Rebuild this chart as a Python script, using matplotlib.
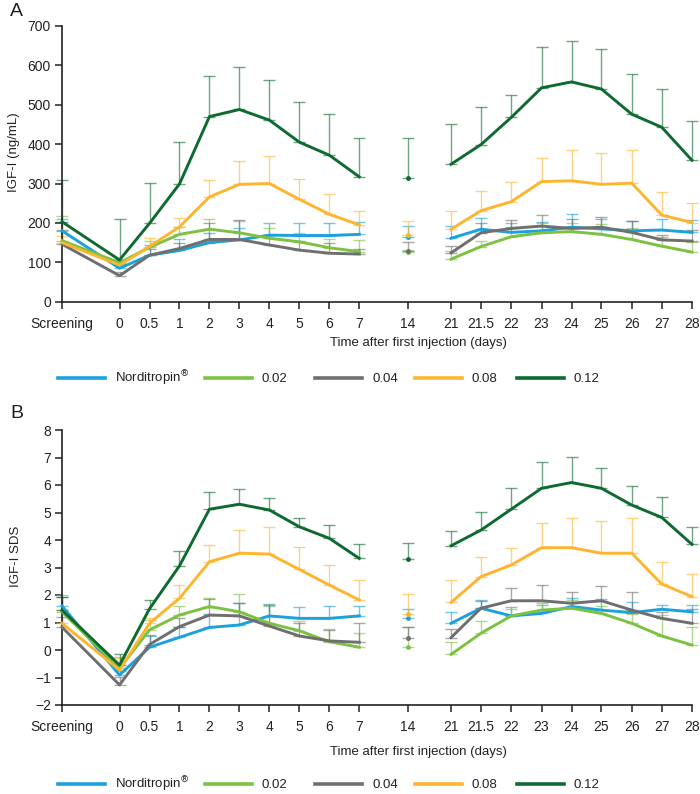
import matplotlib
matplotlib.use("Agg")
import matplotlib.pyplot as plt
from matplotlib.lines import Line2D
import numpy as np

plt.rcParams['font.family'] = ['Liberation Sans', 'DejaVu Sans']

# ---------------- data ----------------
categories = ['Screening', '0', '0.5', '1', '2', '3', '4', '5', '6', '7', '14',
              '21', '21.5', '22', '23', '24', '25', '26', '27', '28']
# position of each category on the (broken) time axis
cat_pos = [-1.92, 0, 1, 2, 3, 4, 5, 6, 7, 8, 9.62, 11.06, 12.06, 13.07, 14.08,
           15.08, 16.08, 17.09, 18.09, 19.1]

series_names = ['Norditropin$^{\\circledR}$', '0.02', '0.04', '0.08', '0.12']

# Panel A: IGF-I (ng/mL) means and mean+SD (top of error bar)
a_nordi = [180, 85, 118, 130, 150, 157, 169, 168, 168, 171, 165, 161, 184, 176, 180, 189, 185, 180, 182, 176]
a_nordi_up = [210, 95, 144, 159, 175, 186, 199, 199, 199, 203, 192, 192, 213, 200, 203, 223, 209, 206, 211, 207]
a_002 = [155, 99, 138, 171, 184, 175, 161, 152, 137, 127, 125, 108, 140, 165, 175, 178, 171, 158, 141, 126]
a_002_up = [217, 105, 155, 190, 209, 206, 188, 175, 160, 157, 130, 129, 155, 190, 200, 200, 197, 186, 165, 152]
a_004 = [146, 66, 118, 135, 158, 158, 144, 131, 123, 121, 128, 124, 175, 186, 192, 186, 189, 176, 157, 154]
a_004_up = [182, 75, 135, 150, 199, 207, 170, 155, 148, 135, 151, 141, 200, 207, 220, 209, 216, 206, 169, 182]
a_008 = [150, 93, 140, 190, 266, 298, 300, 260, 222, 195, 170, 184, 231, 254, 305, 307, 298, 301, 220, 201]
a_008_up = [166, 100, 161, 212, 309, 357, 371, 311, 273, 231, 206, 231, 281, 305, 364, 384, 378, 386, 278, 251]
a_012 = [203, 106, 199, 299, 470, 488, 461, 405, 372, 317, 315, 349, 399, 468, 543, 558, 540, 476, 443, 359]
a_012_up = [309, 211, 301, 405, 573, 595, 564, 506, 476, 416, 416, 451, 495, 525, 647, 662, 641, 579, 541, 460]

# Panel B: IGF-I SDS means and mean+SD
b_nordi = [1.6, -0.91, 0.1, 0.46, 0.82, 0.91, 1.24, 1.15, 1.15, 1.24, 1.18, 0.97, 1.52, 1.24, 1.33, 1.58, 1.45, 1.36, 1.48, 1.39]
b_nordi_up = [1.94, -0.75, 0.5, 0.83, 1.31, 1.7, 1.67, 1.55, 1.6, 1.6, 1.49, 1.37, 1.82, 1.58, 1.64, 1.88, 1.85, 1.73, 1.64, 1.64]
b_002 = [1.39, -0.67, 0.73, 1.27, 1.58, 1.39, 0.97, 0.70, 0.30, 0.1, 0.12, -0.16, 0.61, 1.24, 1.45, 1.52, 1.33, 0.97, 0.51, 0.18]
b_002_up = [2.0, -0.25, 1.1, 1.6, 1.9, 2.03, 1.6, 1.05, 0.75, 0.63, 0.83, 0.30, 1.07, 1.5, 1.7, 1.82, 1.6, 1.3, 1.27, 0.85]
b_004 = [0.83, -1.27, 0.2, 0.85, 1.27, 1.24, 0.87, 0.51, 0.33, 0.28, 0.42, 0.45, 1.52, 1.79, 1.79, 1.7, 1.79, 1.45, 1.15, 0.97]
b_004_up = [1.2, -0.97, 0.55, 1.15, 1.85, 1.7, 1.64, 0.97, 0.73, 0.97, 0.83, 0.75, 1.8, 2.24, 2.36, 2.12, 2.33, 2.12, 1.4, 1.5]
b_008 = [0.97, -0.73, 0.97, 1.88, 3.21, 3.52, 3.49, 2.93, 2.36, 1.82, 1.3, 1.73, 2.67, 3.09, 3.72, 3.72, 3.52, 3.52, 2.4, 1.94]
b_008_up = [1.45, -0.3, 1.15, 2.36, 3.82, 4.36, 4.46, 3.73, 3.09, 2.55, 2.03, 2.55, 3.39, 3.7, 4.61, 4.79, 4.69, 4.79, 3.21, 2.76]
b_012 = [1.45, -0.55, 1.5, 3.06, 5.12, 5.3, 5.09, 4.48, 4.06, 3.33, 3.3, 3.79, 4.36, 5.12, 5.88, 6.09, 5.88, 5.27, 4.82, 3.84]
b_012_up = [1.94, -0.16, 1.82, 3.6, 5.76, 5.85, 5.52, 4.79, 4.56, 3.85, 3.88, 4.34, 5.03, 5.88, 6.82, 7.03, 6.61, 5.96, 5.55, 4.48]

colors = ['#1BA1DC', '#7CC142', '#6F6F70', '#FDB530', '#0E6A30']

panel_a = [(a_nordi, a_nordi_up), (a_002, a_002_up), (a_004, a_004_up),
           (a_008, a_008_up), (a_012, a_012_up)]
panel_b = [(b_nordi, b_nordi_up), (b_002, b_002_up), (b_004, b_004_up),
           (b_008, b_008_up), (b_012, b_012_up)]

# ---------------- figure ----------------
W, H = 700, 794
fig = plt.figure(figsize=(W / 100, H / 100), dpi=100)


def fx(px):
    return px / W


def fy(py):
    return 1 - py / H


axA = fig.add_axes([fx(62), fy(301.7), fx(692 - 62), (301.7 - 26) / H])
axB = fig.add_axes([fx(62), fy(705), fx(692 - 62), (705 - 430) / H])

x = np.array(cat_pos)
seg1 = slice(0, 10)   # Screening .. 7
seg2 = slice(11, 20)  # 21 .. 28
iso = 10              # day 14

TICK_FS = 10
LBL_FS = 9.5
TXT = '#222222'


def draw(ax, data, ylim, yticks):
    for k, (mean, up) in enumerate(data):
        mean = np.array(mean, dtype=float)
        up = np.array(up, dtype=float)
        c = colors[k]
        err = np.vstack([np.zeros_like(mean), up - mean])
        ax.errorbar(x, mean, yerr=err, fmt='none', ecolor=c, alpha=0.6,
                    elinewidth=1.0, capsize=4.2, capthick=1.0, zorder=2 + k * 0.1,
                    clip_on=False)
        ax.plot(x[seg1], mean[seg1], color=c, lw=2.1, zorder=5 + k * 0.1,
                solid_joinstyle='round', clip_on=False)
        ax.plot(x[seg2], mean[seg2], color=c, lw=2.1, zorder=5 + k * 0.1,
                solid_joinstyle='round', clip_on=False)
        ax.plot([x[iso]], [mean[iso]], 'o', color=c, ms=2.5, zorder=5 + k * 0.1,
                clip_on=False)
    ax.set_xlim(cat_pos[0], cat_pos[-1])
    ax.set_ylim(*ylim)
    ax.set_yticks(yticks)
    ax.set_xticks(cat_pos)
    ax.set_xticklabels(categories)
    for s in ['top', 'right']:
        ax.spines[s].set_visible(False)
    for s in ['left', 'bottom']:
        ax.spines[s].set_linewidth(1.2)
        ax.spines[s].set_color(TXT)
    ax.tick_params(axis='both', direction='out', length=5, width=1.1,
                   color=TXT, labelsize=TICK_FS, labelcolor=TXT)
    ax.tick_params(axis='x', pad=6)
    ax.tick_params(axis='y', pad=3)


draw(axA, panel_a, (0, 700), np.arange(0, 701, 100))
draw(axB, panel_b, (-2, 8), np.arange(-2, 9, 1))

# y labels
fig.text(fx(14), fy(152), 'IGF-I (ng/mL)', rotation=90, ha='center', va='center',
         fontsize=LBL_FS, color=TXT)
fig.text(fx(16), fy(556), 'IGF-I SDS', rotation=90, ha='center', va='center',
         fontsize=LBL_FS, color=TXT)

# x labels
fig.text(fx(418), fy(343), 'Time after first injection (days)', ha='center', va='center',
         fontsize=LBL_FS, color=TXT)
fig.text(fx(418), fy(752), 'Time after first injection (days)', ha='center', va='center',
         fontsize=LBL_FS, color=TXT)

# panel letters
fig.text(fx(10), fy(12), 'A', ha='left', va='center', fontsize=14, color=TXT)
fig.text(fx(10), fy(413), 'B', ha='left', va='center', fontsize=14, color=TXT)

# legends (drawn manually in figure pixel coordinates)
leg_start = [58, 205, 315, 415, 517]
for ycen in (378, 784):
    for k, name in enumerate(series_names):
        x0 = leg_start[k]
        fig.add_artist(Line2D([fx(x0), fx(x0 + 47)], [fy(ycen), fy(ycen)],
                              color=colors[k], lw=2.6, transform=fig.transFigure))
        fig.text(fx(x0 + 57), fy(ycen + 4), name, ha='left', va='baseline',
                 fontsize=LBL_FS, color=TXT)

fig.savefig('out.png', dpi=100)
